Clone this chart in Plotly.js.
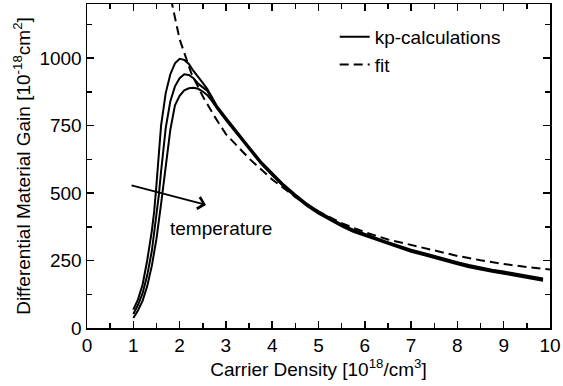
<!DOCTYPE html>
<html>
<head>
<meta charset="utf-8">
<script src="https://cdn.plot.ly/plotly-3.0.1.min.js"></script>
<style>html,body{margin:0;padding:0;background:#fff;}#chart{width:563px;height:386px;}</style>
</head>
<body>
<div id="chart"></div>
<script>
// Carrier density [1e18/cm^3] and differential gain [1e-18 cm^2]
const xA = [1.0,1.1,1.2,1.3,1.4,1.45,1.5,1.55,1.6,1.7,1.8,1.9,2.0,2.1,2.2,2.3,2.4,2.5,2.6,2.7,2.8,3.0,3.25,3.5,3.75,4.0,4.25,4.5,4.75,5.0,5.25,5.5,5.75,6.0,6.25,6.5,6.75,7.0,7.25,7.5,7.75,8.0,8.25,8.5,8.75,9.0,9.25,9.5,9.75,9.85];
const yA = [68,105,160,250,360,430,530,650,750,870,940,980,997,993,978,952,928,908,885,852,824,779,723,671,618,573,531,494,460,432,407,384,364,348,333,318,304,290,279,267,254,244,233,224,216,209,201,194,187,183];

const xB = [1.0,1.1,1.2,1.3,1.4,1.5,1.55,1.6,1.65,1.7,1.8,1.9,2.0,2.1,2.2,2.3,2.4,2.5,2.6,2.7,2.8,3.0,3.25,3.5,3.75,4.0,4.25,4.5,4.75,5.0,5.25,5.5,5.75,6.0,6.25,6.5,6.75,7.0,7.25,7.5,7.75,8.0,8.25,8.5,8.75,9.0,9.25,9.5,9.75,9.85];
const yB = [52,85,128,195,285,410,490,580,670,740,840,895,925,940,937,925,905,893,878,848,820,775,720,668,614,570,527,490,456,428,403,380,360,345,330,314,300,286,275,263,250,240,229,220,212,205,197,190,183,179];

const xC = [1.0,1.1,1.2,1.3,1.4,1.5,1.6,1.65,1.7,1.75,1.8,1.9,2.0,2.1,2.2,2.3,2.4,2.5,2.6,2.7,2.8,3.0,3.25,3.5,3.75,4.0,4.25,4.5,4.75,5.0,5.25,5.5,5.75,6.0,6.25,6.5,6.75,7.0,7.25,7.5,7.75,8.0,8.25,8.5,8.75,9.0,9.25,9.5,9.75,9.85];
const yC = [37,65,100,155,230,330,460,530,615,680,735,825,860,880,888,890,886,876,862,840,815,770,716,664,610,566,523,486,452,424,399,376,356,341,326,310,296,282,271,259,246,236,225,216,208,201,193,186,179,175];

const xFit = [1.75,2.0,2.25,2.5,2.75,3.0,3.5,4.0,4.5,5.0,5.5,6.0,6.5,7.0,7.5,8.0,8.5,9.0,9.5,10.0];
const yFit = [1270,1070,945,858,785,718,628,550,485,432,388,355,328,308,286,267,251,237,226,217];

const xTickVals = [0,1,2,3,4,5,6,7,8,9,10];
const yTickVals = [0,250,500,750,1000];

const FONT = "Liberation Sans, Arial, Helvetica, sans-serif";
const FS = 19;
const solid = {color:'#000', width:2};

const traces = [
  {x:xA, y:yA, type:'scatter', mode:'lines', line:solid, name:'kp-calculations', showlegend:true},
  {x:xB, y:yB, type:'scatter', mode:'lines', line:solid, name:'kp-calculations', showlegend:false},
  {x:xC, y:yC, type:'scatter', mode:'lines', line:solid, name:'kp-calculations', showlegend:false},
  {x:xFit, y:yFit, type:'scatter', mode:'lines', line:{color:'#000', width:2, dash:'9px,5px'}, name:'fit', showlegend:true}
];

const axisCommon = {
  showgrid:false, zeroline:false, showline:true, linecolor:'#000', linewidth:1.5,
  mirror:'ticks', ticks:'inside', ticklen:7, tickwidth:1.5, tickcolor:'#000',
  tickfont:{family:FONT, size:FS, color:'#000'}
};

const layout = {
  width:563, height:386,
  margin:{l:87, r:13, t:4, b:58},
  paper_bgcolor:'#fff', plot_bgcolor:'#fff',
  font:{family:FONT, color:'#000'},
  xaxis: Object.assign({}, axisCommon, {
    range:[0,10], tickvals:xTickVals, ticklabelstandoff:0,
    minor:{dtick:0.5, ticks:'inside', ticklen:5, tickwidth:1.5, tickcolor:'#000'},
    title:{text:'Carrier Density [10<sup>18</sup>/cm<sup>3</sup>]', font:{family:FONT, size:FS, color:'#000'}, standoff:5}
  }),
  yaxis: Object.assign({}, axisCommon, {
    range:[0,1200], tickvals:yTickVals,
    minor:{tick0:0, dtick:125, ticks:'inside', ticklen:5, tickwidth:1.5, tickcolor:'#000'},
    title:{text:'Differential Material Gain [10<sup>-18</sup>cm<sup>2</sup>]', font:{family:FONT, size:FS, color:'#000'}, standoff:4}
  }),
  legend:{x:0.535, y:0.957, xanchor:'left', yanchor:'top', bgcolor:'rgba(0,0,0,0)',
    font:{family:FONT, size:FS, color:'#000'}, itemwidth:30, tracegroupgap:0},
  showlegend:true,
  annotations:[
    {x:2.57, y:456, ax:0.93, ay:530, xref:'x', yref:'y', axref:'x', ayref:'y',
     showarrow:true, arrowhead:4, arrowsize:1.3, arrowwidth:1.8, arrowcolor:'#000', text:''},
    {x:2.9, y:367, xref:'x', yref:'y', text:'temperature', showarrow:false,
     font:{family:FONT, size:FS, color:'#000'}}
  ]
};

Plotly.newPlot('chart', traces, layout, {staticPlot:true, displayModeBar:false});
</script>
</body>
</html>
